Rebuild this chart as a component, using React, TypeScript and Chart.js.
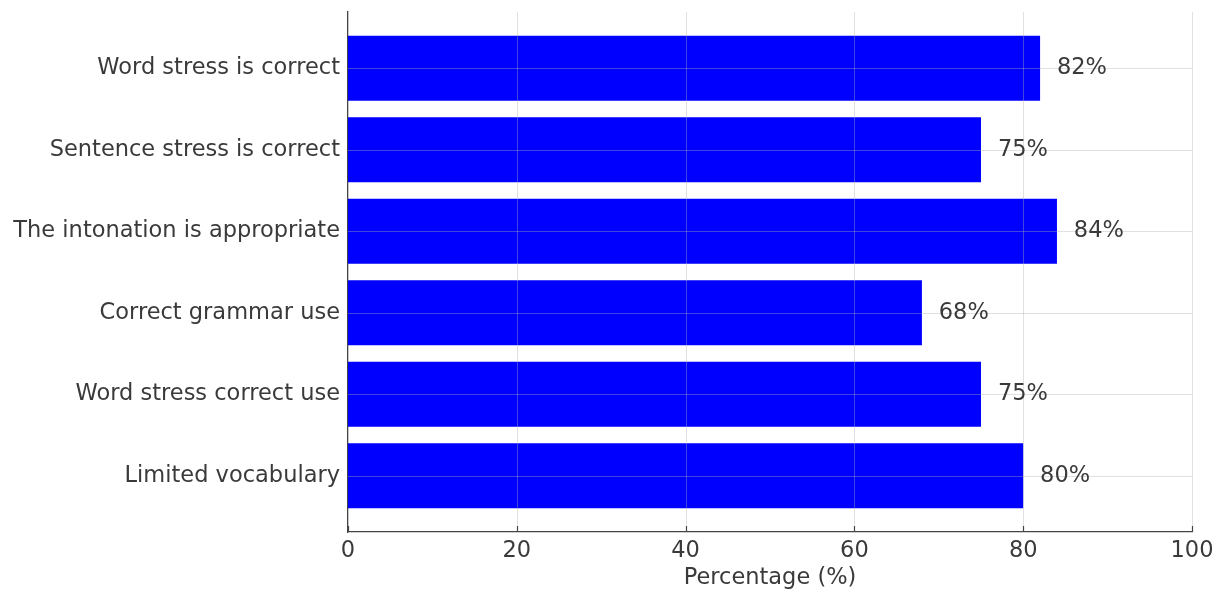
import React, { useEffect, useRef } from "react";
import { Chart, registerables } from "chart.js";

Chart.register(...registerables);

const categories = [
  "Word stress is correct",
  "Sentence stress is correct",
  "The intonation is appropriate",
  "Correct grammar use",
  "Word stress correct use",
  "Limited vocabulary",
];
const percentages = [82, 75, 84, 68, 75, 80];
const xTicks = [0, 20, 40, 60, 80, 100];

const FONT = "'DejaVu Sans', sans-serif";
const FONT_SIZE = 22.5;
const TEXT = "#3a3a3a";
const AXIS = "#444444";
const GRID = "rgba(176,176,176,0.38)";

// Grid lines sit on top of the bars, then value labels and inward tick marks.
const overlayPlugin = {
  id: "overlay",
  afterDatasetsDraw(chart: any) {
    const { ctx, chartArea, scales } = chart;
    const xs = scales.x;
    const ys = scales.y;
    ctx.save();
    ctx.strokeStyle = GRID;
    ctx.lineWidth = 1;
    xTicks.forEach((t) => {
      if (t === 0) return;
      const px = Math.round(xs.getPixelForValue(t)) + 0.5;
      ctx.beginPath();
      ctx.moveTo(px, chartArea.top);
      ctx.lineTo(px, chartArea.bottom);
      ctx.stroke();
    });
    categories.forEach((_, i) => {
      const py = Math.round(ys.getPixelForValue(i)) + 0.5;
      ctx.beginPath();
      ctx.moveTo(chartArea.left, py);
      ctx.lineTo(chartArea.right, py);
      ctx.stroke();
    });

    // inward ticks on the x axis
    ctx.strokeStyle = AXIS;
    ctx.lineWidth = 1.2;
    xTicks.forEach((t) => {
      const px = Math.round(xs.getPixelForValue(t)) + 0.5;
      ctx.beginPath();
      ctx.moveTo(px, chartArea.bottom);
      ctx.lineTo(px, chartArea.bottom - 6);
      ctx.stroke();
    });

    // value labels
    ctx.fillStyle = TEXT;
    ctx.font = `${FONT_SIZE}px ${FONT}`;
    ctx.textAlign = "left";
    ctx.textBaseline = "middle";
    percentages.forEach((v, i) => {
      ctx.fillText(`${v}%`, xs.getPixelForValue(v + 2), ys.getPixelForValue(i));
    });
    ctx.restore();
  },
};

export default function App() {
  const canvasRef = useRef<HTMLCanvasElement | null>(null);

  useEffect(() => {
    document.body.style.margin = "0";
    const canvas = canvasRef.current;
    if (!canvas) return;
    const chart = new Chart(canvas, {
      type: "bar",
      data: {
        datasets: [
          {
            data: percentages.map((v, i) => ({ x: v, y: i })),
            backgroundColor: "#0000ff",
            borderWidth: 0,
            barPercentage: 0.8,
            categoryPercentage: 1,
          },
        ],
      },
      options: {
        indexAxis: "y",
        animation: false,
        responsive: false,
        maintainAspectRatio: false,
        layout: { padding: { left: 0, top: 12, right: 33, bottom: 0 } },
        plugins: {
          legend: { display: false },
          tooltip: { enabled: false },
        },
        scales: {
          x: {
            type: "linear",
            min: 0,
            max: 100,
            afterBuildTicks: (scale: any) => {
              scale.ticks = xTicks.map((v) => ({ value: v }));
            },
            afterFit: (scale: any) => {
              scale.height = 62;
              scale.paddingLeft = 0;
              scale.paddingRight = 0;
            },
            grid: { display: false, drawTicks: false, tickLength: 0 },
            border: { display: true, color: AXIS, width: 1.3 },
            ticks: {
              color: TEXT,
              font: { family: FONT, size: FONT_SIZE },
              padding: 6,
              maxRotation: 0,
            },
            title: {
              display: true,
              text: "Percentage (%)",
              color: TEXT,
              font: { family: FONT, size: FONT_SIZE },
              padding: { top: 0, bottom: 2 },
            },
          },
          y: {
            type: "linear",
            reverse: true,
            offset: false,
            min: -0.69,
            max: 5.69,
            afterBuildTicks: (scale: any) => {
              scale.ticks = categories.map((_, i) => ({ value: i }));
            },
            afterFit: (scale: any) => {
              scale.width = 348;
              scale.paddingTop = 0;
              scale.paddingBottom = 0;
            },
            grid: { display: false, drawTicks: false, tickLength: 0 },
            border: { display: true, color: AXIS, width: 1.3 },
            ticks: {
              color: TEXT,
              font: { family: FONT, size: FONT_SIZE },
              padding: 8,
              autoSkip: false,
              callback: (v: any) => categories[Number(v)] ?? "",
            },
          },
        },
      },
      plugins: [overlayPlugin],
    });
    return () => chart.destroy();
  }, []);

  return (
    <div style={{ position: "relative", width: 1225, height: 594, background: "#fff" }}>
      <canvas ref={canvasRef} width={1225} height={594} />
    </div>
  );
}
